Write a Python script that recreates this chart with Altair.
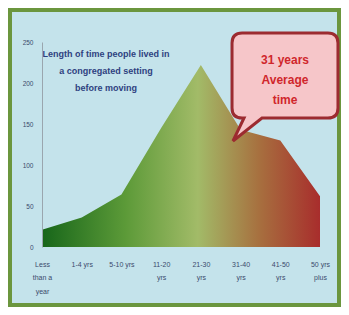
import altair as alt
import pandas as pd

categories = ["Less than a year", "1-4 yrs", "5-10 yrs", "11-20 yrs",
              "21-30 yrs", "31-40 yrs", "41-50 yrs", "50 yrs plus"]
people = [21, 36, 64, 145, 222, 143, 130, 62]
label_lines = [["Less", "than a", "year"], ["1-4 yrs"], ["5-10 yrs"], ["11-20", "yrs"],
               ["21-30", "yrs"], ["31-40", "yrs"], ["41-50", "yrs"], ["50 yrs", "plus"]]
y_ticks = [0, 50, 100, 150, 200, 250]
title_lines = ["Length of time people lived in", "a congregated setting", "before moving"]
callout_lines = ["31 years", "Average", "time"]

df = pd.DataFrame({"cat": categories, "people": people})

# label expression for wrapped category labels
parts = []
for c, lines in zip(categories, label_lines):
    arr = "[" + ",".join("'" + l + "'" for l in lines) + "]"
    parts.append(f"datum.label == '{c}' ? {arr}")
label_expr = " : ".join(parts) + " : datum.label"

W, H = 278, 205
PL, PT, PR, PB = 34, 34, 21, 60
FONT = "Liberation Sans"
TXT = "#3b4a6b"

one = alt.Data(values=[{}])

panel = alt.Chart(one).mark_rect(color="#c4e3eb").encode(
    x=alt.value(-PL + 4), x2=alt.value(W + PR - 4),
    y=alt.value(-PT + 4), y2=alt.value(H + PB - 4),
)

gradient = alt.Gradient(
    gradient="linear",
    stops=[
        alt.GradientStop(color="#17661a", offset=0),
        alt.GradientStop(color="#5c9a38", offset=0.3),
        alt.GradientStop(color="#a2bb68", offset=0.56),
        alt.GradientStop(color="#a7703f", offset=0.78),
        alt.GradientStop(color="#a82d2c", offset=1),
    ],
    x1=0, x2=1, y1=0, y2=0,
)

area = alt.Chart(df).mark_area(color=gradient, interpolate="linear").encode(
    x=alt.X("cat:N", sort=categories,
            scale=alt.Scale(type="point", padding=0),
            axis=alt.Axis(title=None, labelAngle=0, labelExpr=label_expr,
                          labelFontSize=7, labelColor=TXT, labelFont=FONT,
                          labelLineHeight=13.5, labelPadding=13, labelBaseline="top",
                          ticks=False, domain=False, labelLimit=200,
                          labelOverlap=False, zindex=2)),
    y=alt.Y("people:Q", scale=alt.Scale(domain=[0, 250], nice=False),
            axis=alt.Axis(title=None, values=y_ticks, grid=False, ticks=False,
                          labelFontSize=6.5, labelColor=TXT, labelFont=FONT,
                          labelPadding=9, domainColor="#9aa6ae", domainWidth=1,
                          zindex=2)),
)

title = alt.Chart(one).mark_text(
    text=title_lines, font=FONT, fontSize=9, fontWeight="bold",
    color="#2e4180", align="center", baseline="middle", lineHeight=17,
).encode(x=alt.value(64), y=alt.value(12))

callout_path = ("M -0.766 -0.982 L 0.766 -0.982 Q 0.946 -0.982 0.946 -0.802 "
                "L 0.946 0.356 Q 0.946 0.536 0.766 0.536 L -0.411 0.536 "
                "L -0.929 0.946 L -0.732 0.536 L -0.766 0.536 "
                "Q -0.946 0.536 -0.946 0.356 L -0.946 -0.802 "
                "Q -0.946 -0.982 -0.766 -0.982 Z")

callout = alt.Chart(one).mark_point(
    shape=callout_path, size=112 * 112, filled=True, fill="#f6c6c9",
    stroke="#9c2b30", strokeWidth=3, opacity=1, fillOpacity=1,
).encode(x=alt.value(243), y=alt.value(46))

callout_text = alt.Chart(one).mark_text(
    text=callout_lines, font=FONT, fontSize=12, fontWeight="bold",
    color="#d0262c", align="center", baseline="middle", lineHeight=20,
).encode(x=alt.value(243), y=alt.value(18))

chart = alt.layer(panel, area, title, callout, callout_text).properties(
    width=W, height=H,
    padding={"left": PL, "top": PT, "right": PR, "bottom": PB},
    autosize=alt.AutoSizeParams(type="none"),
    background="#6b963e",
).configure_view(stroke=None)

chart.save("out.html", embed_options={"renderer": "svg", "actions": False})
